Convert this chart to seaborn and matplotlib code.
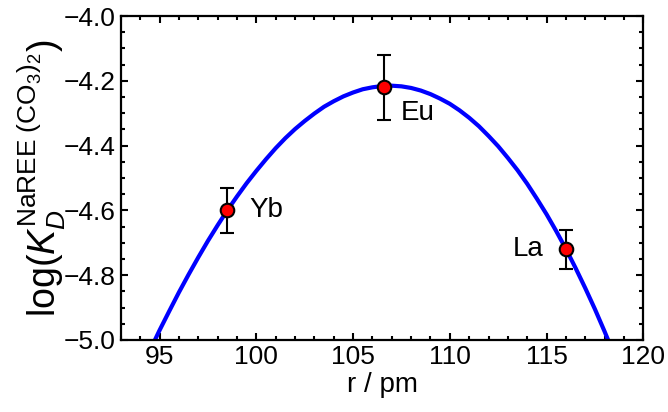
import numpy as np
import pandas as pd
import matplotlib
matplotlib.use('Agg')
import matplotlib.pyplot as plt
from matplotlib.ticker import MultipleLocator, FuncFormatter
import seaborn as sns

# measured points
ions = ['Yb', 'Eu', 'La']
radius = [98.5, 106.6, 116.0]
logkd = [-4.60, -4.22, -4.72]
err = [0.07, 0.10, 0.06]

# fitted curve
curve_r = [94.76, 95, 95.5, 96, 96.5, 97, 97.5, 98, 98.5, 99, 99.5, 100, 100.5,
           101, 101.5, 102, 102.5, 103, 103.5, 104, 104.5, 105, 105.5, 106,
           106.5, 107, 107.5, 108, 108.5, 109, 109.5, 110, 110.5, 111, 111.5,
           112, 112.5, 113, 113.5, 114, 114.5, 115, 115.5, 116, 116.5, 117,
           117.5, 118, 118.18]
curve_logkd = [-5.000, -4.970, -4.911, -4.853, -4.798, -4.745, -4.694, -4.646,
               -4.600, -4.557, -4.516, -4.478, -4.442, -4.408, -4.377, -4.349,
               -4.324, -4.301, -4.280, -4.263, -4.248, -4.236, -4.226, -4.220,
               -4.216, -4.215, -4.217, -4.222, -4.230, -4.241, -4.255, -4.271,
               -4.291, -4.314, -4.340, -4.370, -4.402, -4.438, -4.476, -4.518,
               -4.564, -4.612, -4.664, -4.719, -4.778, -4.840, -4.905, -4.974,
               -5.000]

sns.set_style('ticks')
plt.rcParams['font.family'] = ['Liberation Sans', 'DejaVu Sans']
plt.rcParams['mathtext.fontset'] = 'custom'
plt.rcParams['mathtext.rm'] = 'Liberation Sans'
plt.rcParams['mathtext.it'] = 'Liberation Sans:italic'
for k in ['text.color', 'axes.labelcolor', 'xtick.color', 'ytick.color', 'axes.edgecolor']:
    plt.rcParams[k] = 'black'

fig = plt.figure(figsize=(6.68, 4.12), dpi=100)
ax = fig.add_axes([0.181, 0.175, 0.782, 0.786])

curve = pd.DataFrame({'r': curve_r, 'logkd': curve_logkd})
sns.lineplot(data=curve, x='r', y='logkd', ax=ax, color='#0000ff', lw=3, zorder=2)

ax.errorbar(radius, logkd, yerr=err, fmt='none', ecolor='black',
            elinewidth=1.5, capsize=4.7, capthick=1.5, zorder=3)
pts = pd.DataFrame({'r': radius, 'logkd': logkd, 'ion': ions})
sns.scatterplot(data=pts, x='r', y='logkd', ax=ax, color='red', s=95,
                edgecolor='black', linewidth=1.5, zorder=4)

ax.text(99.65, -4.60, 'Yb', fontsize=20, va='center', ha='left')
ax.text(107.45, -4.30, 'Eu', fontsize=20, va='center', ha='left')
ax.text(114.85, -4.72, 'La', fontsize=20, va='center', ha='right')

ax.set_xlim(93, 120)
ax.set_ylim(-5.0, -4.0)
ax.xaxis.set_major_locator(MultipleLocator(5))
ax.xaxis.set_minor_locator(MultipleLocator(1))
ax.yaxis.set_major_locator(MultipleLocator(0.2))
ax.yaxis.set_minor_locator(MultipleLocator(0.05))
ax.yaxis.set_major_formatter(FuncFormatter(lambda v, p: f'{v:.1f}'.replace('-', '\u2212')))
ax.tick_params(which='both', direction='in', top=True, right=True,
               labelsize=19, width=1.5, pad=4)
ax.tick_params(which='major', length=5)
ax.tick_params(which='minor', length=3)
for s in ax.spines.values():
    s.set_linewidth(1.6)

ax.set_xlabel('r / pm', fontsize=20, labelpad=2)
ax.set_ylabel(r'log($K_D^{\mathrm{NaREE\ (CO_3)_2}}$)', fontsize=27, labelpad=-3)

fig.savefig('out.png', dpi=100)
